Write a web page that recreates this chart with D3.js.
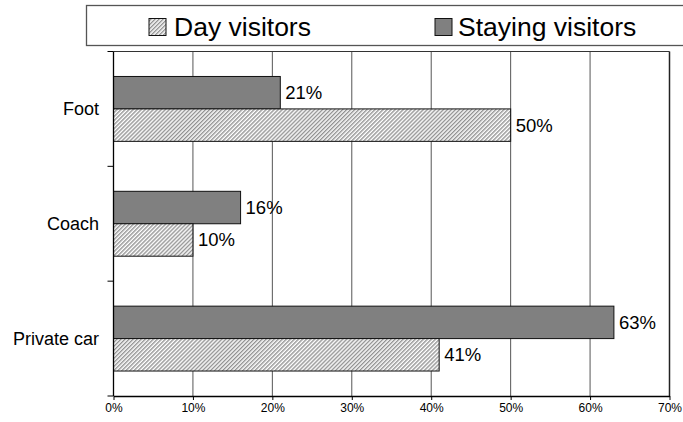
<!DOCTYPE html>
<html>
<head>
<meta charset="utf-8">
<script src="https://cdn.jsdelivr.net/npm/d3@7"></script>
<style>
  body { margin: 0; background: #fff; }
  svg { display: block; font-family: "Liberation Sans", Arial, sans-serif; }
</style>
</head>
<body>
<svg id="chart" width="683" height="422"></svg>
<script>
// Share of visitors by mode of transport
const categories = ["Foot", "Coach", "Private car"];
const seriesKeys = ["staying", "day"];
const legendLabels = ["Day visitors", "Staying visitors"];
const stayingValues = [21, 16, 63];
const dayValues = [50, 10, 41];
const xTicks = [0, 10, 20, 30, 40, 50, 60, 70];

const rows = categories.map((c, i) => ({
  category: c,
  staying: stayingValues[i],
  day: dayValues[i]
}));

const svg = d3.select("#chart");
const plot = { left: 113.5, right: 669.5, top: 51.5, bottom: 396 };

const x = d3.scaleLinear().domain([0, 70]).range([plot.left, plot.right]);
const y = d3.scaleBand().domain(categories)
  .range([plot.top, plot.bottom])
  .paddingInner(0.435).paddingOuter(0.2175);
const ySub = d3.scaleBand().domain(seriesKeys).range([0, y.bandwidth()]);

// fine diagonal hatch for day visitors
const defs = svg.append("defs");
const hatch = defs.append("pattern")
  .attr("id", "hatch")
  .attr("patternUnits", "userSpaceOnUse")
  .attr("width", 2.85).attr("height", 2.85)
  .attr("patternTransform", "rotate(45)");
hatch.append("rect").attr("width", 2.85).attr("height", 2.85).attr("fill", "#fff");
hatch.append("line")
  .attr("x1", 0.7).attr("y1", 0).attr("x2", 0.7).attr("y2", 2.85)
  .attr("stroke", "#8c8c8c").attr("stroke-width", 1.3);

const fills = { staying: "#808080", day: "url(#hatch)" };

// gridlines
svg.append("g").selectAll("line")
  .data(xTicks.filter(d => d > 0 && d < 70))
  .join("line")
  .attr("x1", d => x(d)).attr("x2", d => x(d))
  .attr("y1", plot.top).attr("y2", plot.bottom)
  .attr("stroke", "#555").attr("stroke-width", 1);

// plot frame: top and right edges
svg.append("line")
  .attr("x1", plot.left).attr("x2", plot.right)
  .attr("y1", plot.top).attr("y2", plot.top)
  .attr("stroke", "#333").attr("stroke-width", 1.2);
svg.append("line")
  .attr("x1", plot.right).attr("x2", plot.right)
  .attr("y1", plot.top).attr("y2", plot.bottom)
  .attr("stroke", "#222").attr("stroke-width", 1.5);

// bars
const groups = svg.append("g").selectAll("g")
  .data(rows).join("g")
  .attr("transform", d => `translate(0,${y(d.category)})`);

groups.selectAll("rect")
  .data(d => seriesKeys.map(k => ({ key: k, value: d[k] })))
  .join("rect")
  .attr("x", x(0))
  .attr("y", d => ySub(d.key))
  .attr("width", d => x(d.value) - x(0))
  .attr("height", ySub.bandwidth())
  .attr("fill", d => fills[d.key])
  .attr("stroke", "#111").attr("stroke-width", 1);

groups.selectAll("text")
  .data(d => seriesKeys.map(k => ({ key: k, value: d[k] })))
  .join("text")
  .attr("x", d => x(d.value) + 5)
  .attr("y", d => ySub(d.key) + ySub.bandwidth() / 2)
  .attr("dy", "0.35em")
  .attr("font-size", 18.5)
  .attr("fill", "#000")
  .text(d => d.value + "%");

// x axis
const xAxis = svg.append("g")
  .attr("transform", `translate(0,${plot.bottom})`)
  .call(d3.axisBottom(x).tickValues(xTicks).tickFormat(d => d + "%")
    .tickSize(4).tickSizeOuter(0));
xAxis.select(".domain").attr("stroke", "#000").attr("stroke-width", 1.3);
xAxis.selectAll(".tick line").attr("stroke", "#000");
xAxis.selectAll("text")
  .attr("font-family", "Liberation Sans, Arial, sans-serif")
  .attr("font-size", 12).attr("fill", "#000");

// y axis: line, ticks on category boundaries, labels
const boundaries = [plot.top].concat(categories.map(c => y(c) + y.bandwidth() + y.step() * y.paddingInner() / 2));
boundaries[boundaries.length - 1] = plot.bottom;
svg.append("line")
  .attr("x1", plot.left).attr("x2", plot.left)
  .attr("y1", plot.top).attr("y2", plot.bottom)
  .attr("stroke", "#000").attr("stroke-width", 1.3);
svg.append("g").selectAll("line")
  .data(boundaries).join("line")
  .attr("x1", plot.left - 6).attr("x2", plot.left)
  .attr("y1", d => d).attr("y2", d => d)
  .attr("stroke", "#000");
svg.append("g").selectAll("text")
  .data(categories).join("text")
  .attr("x", 99)
  .attr("y", d => y(d) + y.bandwidth() / 2)
  .attr("dy", "0.35em")
  .attr("text-anchor", "end")
  .attr("font-size", 18)
  .attr("fill", "#000")
  .text(d => d);

// legend
const legend = svg.append("g");
legend.append("rect")
  .attr("x", 86.5).attr("y", 5.5)
  .attr("width", 640).attr("height", 40)
  .attr("fill", "#fff").attr("stroke", "#555").attr("stroke-width", 1.3);
const legendItems = [
  { label: legendLabels[0], fill: fills.day, sx: 149, tx: 174 },
  { label: legendLabels[1], fill: fills.staying, sx: 435, tx: 458 }
];
legendItems.forEach(it => {
  legend.append("rect")
    .attr("x", it.sx).attr("y", 18.5)
    .attr("width", 17).attr("height", 17)
    .attr("fill", it.fill).attr("stroke", "#111").attr("stroke-width", 1);
  legend.append("text")
    .attr("x", it.tx).attr("y", 36)
    .attr("font-size", 26.5).attr("fill", "#000")
    .text(it.label);
});
</script>
</body>
</html>
